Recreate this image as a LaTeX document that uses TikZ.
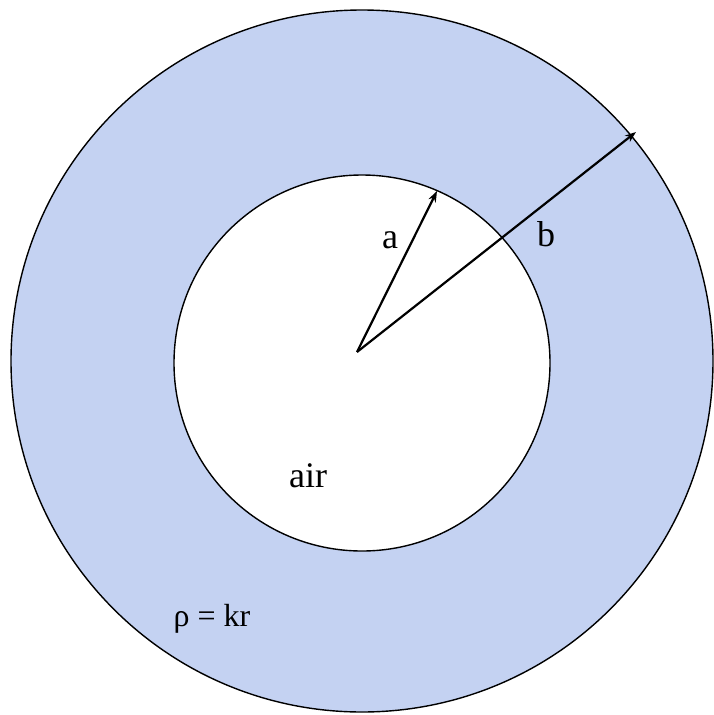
\documentclass[tikz,border=0pt]{standalone}
\usepackage{fontspec}
\setmainfont{Liberation Serif}
\usetikzlibrary{arrows.meta}
\definecolor{shellfill}{RGB}{196,210,242}
\tikzset{
  ring/.style={draw=black, line width=1.4pt},
  radius arrow/.style={draw=black, line width=2.2pt, -{Stealth[length=11pt,width=8pt]}},
  lbl/.style={inner sep=0pt, font=\fontsize{36}{40}\selectfont},
  smalllbl/.style={inner sep=0pt, font=\fontsize{32}{36}\selectfont}
}
\begin{document}
\begin{tikzpicture}[x=1pt,y=-1pt]
\useasboundingbox (0,0) rectangle (713,715);
\fill[white] (0,0) rectangle (713,715);
% shell
\path[ring, fill=shellfill] (362,361) circle[radius=351];
\path[ring, fill=white] (362,363) circle[radius=188];
% radii
\coordinate (c) at (357,352);
\coordinate (ta) at (437,191);
\coordinate (tb) at (636,132);
\draw[radius arrow] (c) -- (ta);
\draw[radius arrow] (c) -- (tb);
% labels
\node[lbl] (la) at (390,240) {a};
\node[lbl] (lb) at (546,234) {b};
\node[lbl] (lair) at (308,476) {air};
\node[smalllbl] (lrho) at (212,619) {ρ = kr};
\end{tikzpicture}
\end{document}
